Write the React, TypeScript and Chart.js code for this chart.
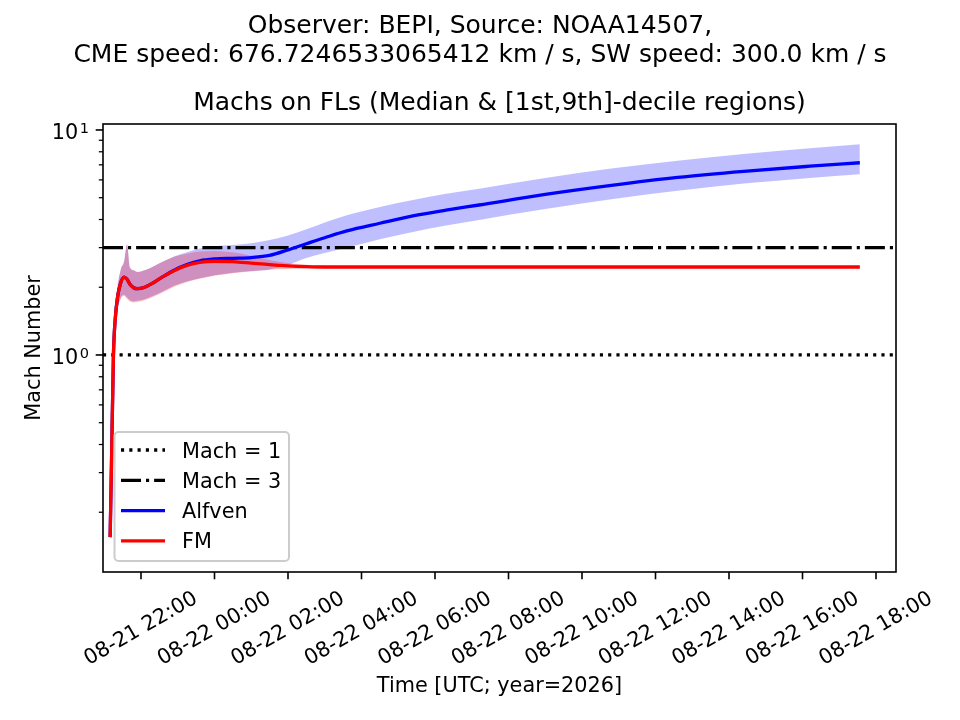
import React, { useEffect, useRef } from 'react';
import { Chart, registerables } from 'chart.js';

Chart.register(...registerables);

// hours counted from 2026-08-21 00:00 UTC
const TIME_H = [
  21.16, 21.2, 21.25, 21.3, 21.36, 21.45, 21.54, 21.62, 21.7, 21.8, 21.9, 22.1,
  22.35, 22.6, 22.9, 23.25, 23.6, 24.0, 24.5, 25.0, 25.5, 26.0, 26.5, 27.0, 27.6,
  28.5, 29.4, 30.3, 31.2, 33.0, 34.8, 36.6, 38.4, 40.2, 41.56,
];

const ALFVEN_MED = [
  0.155, 0.35, 1.0, 1.45, 1.8, 2.1, 2.22, 2.17, 2.06, 1.99, 1.97, 2.0,
  2.1, 2.23, 2.38, 2.52, 2.62, 2.67, 2.69, 2.71, 2.77, 2.93, 3.12, 3.32, 3.56,
  3.85, 4.15, 4.4, 4.64, 5.17, 5.67, 6.15, 6.55, 6.9, 7.15,
];
const ALFVEN_LO = [
  0.15, 0.33, 0.93, 1.33, 1.6, 1.8, 1.85, 1.8, 1.75, 1.73, 1.74, 1.77,
  1.84, 1.92, 2.03, 2.12, 2.19, 2.26, 2.32, 2.36, 2.4, 2.52, 2.7, 2.84, 3.0,
  3.27, 3.52, 3.76, 3.98, 4.45, 4.92, 5.37, 5.78, 6.12, 6.36,
];
const ALFVEN_HI = [
  0.165, 0.39, 1.1, 1.6, 2.0, 2.4, 2.6, 3.1, 2.45, 2.38, 2.34, 2.38,
  2.48, 2.6, 2.74, 2.86, 2.97, 3.04, 3.08, 3.14, 3.24, 3.4, 3.62, 3.88, 4.18,
  4.55, 4.88, 5.2, 5.48, 6.12, 6.75, 7.3, 7.82, 8.3, 8.64,
];

const FM_MED = [
  0.155, 0.35, 1.0, 1.45, 1.8, 2.1, 2.22, 2.17, 2.06, 1.99, 1.97, 2.0,
  2.1, 2.23, 2.37, 2.5, 2.58, 2.61, 2.6, 2.56, 2.52, 2.49, 2.47, 2.46, 2.46,
  2.46, 2.46, 2.46, 2.46, 2.46, 2.46, 2.46, 2.46, 2.46, 2.46,
];
const FM_LO = [
  0.148, 0.32, 0.92, 1.31, 1.58, 1.78, 1.83, 1.78, 1.73, 1.71, 1.72, 1.75,
  1.82, 1.9, 2.01, 2.11, 2.18, 2.25, 2.31, 2.35, 2.39, 2.41, 2.42, 2.43, 2.43,
  2.43, 2.43, 2.43, 2.43, 2.43, 2.43, 2.43, 2.43, 2.43, 2.43,
];
const FM_HI = [
  0.165, 0.39, 1.1, 1.6, 2.0, 2.4, 2.6, 3.1, 2.45, 2.38, 2.34, 2.38,
  2.48, 2.6, 2.73, 2.82, 2.88, 2.9, 2.86, 2.76, 2.64, 2.56, 2.52, 2.5, 2.49,
  2.49, 2.49, 2.49, 2.49, 2.49, 2.49, 2.49, 2.49, 2.49, 2.49,
];

const MACH_LEVELS = [1, 3];
const X_TICKS = [22, 24, 26, 28, 30, 32, 34, 36, 38, 40, 42];
const Y_MAJOR = [1, 10];
const Y_MAJOR_EXP = ['0', '1'];
const Y_MINOR = [0.2, 0.3, 0.4, 0.5, 0.6, 0.7, 0.8, 0.9, 2, 3, 4, 5, 6, 7, 8, 9];
const X_MIN = 20.966;
const X_MAX = 42.544;
const Y_MIN = 0.1085;
const Y_MAX = 10.63;

const SUPTITLE = [
  'Observer: BEPI, Source: NOAA14507,',
  'CME speed: 676.7246533065412 km / s, SW speed: 300.0 km / s',
];
const TITLE = 'Machs on FLs (Median & [1st,9th]-decile regions)';
const X_LABEL = 'Time [UTC; year=2026]';
const Y_LABEL = 'Mach Number';
const LEGEND_LABELS = ['Mach = 1', 'Mach = 3', 'Alfven', 'FM'];

const FONT = '"DejaVu Sans", sans-serif';
const FS = 20.8;
const FS_TITLE = 25;
const LW = 3.125;
const LINE_W = 3.3;
const DOTTED = [LW, 1.65 * LW];
const DASHDOT = [6.4 * LW, 1.6 * LW, LW, 1.6 * LW];

const tickLabel = (h: number) => {
  const day = 21 + Math.floor(h / 24);
  const hh = h % 24;
  return `08-${day} ${String(hh).padStart(2, '0')}:00`;
};

const pts = (ys: number[]) => TIME_H.map((t, i) => ({ x: t, y: ys[i] }));

const decor = {
  id: 'mplDecor',
  afterDraw(chart: any) {
    const { ctx, chartArea: a } = chart;
    const xs = chart.scales.x;
    const ys = chart.scales.y;
    ctx.save();
    ctx.fillStyle = '#000';
    ctx.strokeStyle = '#000';
    ctx.setLineDash([]);

    // legend
    const lx = 114.5, ly = 432, lw = 174.5, lh = 129;
    ctx.beginPath();
    ctx.roundRect(lx, ly, lw, lh, 4);
    ctx.fillStyle = 'rgba(255,255,255,0.8)';
    ctx.fill();
    ctx.strokeStyle = '#cccccc';
    ctx.lineWidth = 2;
    ctx.stroke();
    const handles = [
      { color: '#000', dash: DOTTED },
      { color: '#000', dash: DASHDOT },
      { color: '#0000ff', dash: [] },
      { color: '#ff0000', dash: [] },
    ];
    ctx.font = `${FS}px ${FONT}`;
    LEGEND_LABELS.forEach((lab, i) => {
      const ry = 450 + i * 30.3;
      ctx.strokeStyle = handles[i].color;
      ctx.lineWidth = LINE_W;
      ctx.setLineDash(handles[i].dash);
      ctx.beginPath();
      ctx.moveTo(121, ry);
      ctx.lineTo(165, ry);
      ctx.stroke();
      ctx.setLineDash([]);
      ctx.fillStyle = '#000';
      ctx.textAlign = 'left';
      ctx.textBaseline = 'alphabetic';
      ctx.fillText(lab, 182, ry + 0.365 * FS);
    });

    // spines
    ctx.strokeStyle = '#000';
    ctx.fillStyle = '#000';
    ctx.lineWidth = 1.6;
    ctx.strokeRect(a.left, a.top, a.right - a.left, a.bottom - a.top);

    // x ticks + rotated labels
    const ang = Math.PI / 6;
    X_TICKS.forEach((h) => {
      const px = xs.getPixelForValue(h);
      ctx.beginPath();
      ctx.moveTo(px, a.bottom);
      ctx.lineTo(px, a.bottom + 7.3);
      ctx.stroke();
      const lab = tickLabel(h);
      const w = ctx.measureText(lab).width;
      const bh = w * Math.sin(ang) + FS * 1.17 * Math.cos(ang);
      ctx.save();
      ctx.translate(px, a.bottom + 14.6 + bh / 2);
      ctx.rotate(-ang);
      ctx.textAlign = 'center';
      ctx.textBaseline = 'middle';
      ctx.fillText(lab, 0, 0);
      ctx.restore();
    });

    // y ticks
    Y_MAJOR.forEach((v, i) => {
      const py = ys.getPixelForValue(v);
      ctx.lineWidth = 1.6;
      ctx.beginPath();
      ctx.moveTo(a.left, py);
      ctx.lineTo(a.left - 7.3, py);
      ctx.stroke();
      ctx.font = `${FS * 0.7}px ${FONT}`;
      const sw = ctx.measureText(Y_MAJOR_EXP[i]).width;
      ctx.textAlign = 'right';
      ctx.textBaseline = 'alphabetic';
      ctx.fillText(Y_MAJOR_EXP[i], 89, py + 3);
      ctx.font = `${FS}px ${FONT}`;
      ctx.fillText('10', 89 - sw - 1.5, py + 9.5);
    });
    ctx.lineWidth = 1.25;
    Y_MINOR.forEach((v) => {
      const py = ys.getPixelForValue(v);
      ctx.beginPath();
      ctx.moveTo(a.left, py);
      ctx.lineTo(a.left - 4.2, py);
      ctx.stroke();
    });

    // axis labels
    ctx.font = `${FS}px ${FONT}`;
    ctx.textAlign = 'center';
    ctx.textBaseline = 'alphabetic';
    ctx.fillText(X_LABEL, (a.left + a.right) / 2, 692);
    ctx.save();
    ctx.translate(40, (a.top + a.bottom) / 2);
    ctx.rotate(-Math.PI / 2);
    ctx.fillText(Y_LABEL, 0, 0);
    ctx.restore();

    // titles
    ctx.font = `${FS_TITLE}px ${FONT}`;
    ctx.fillText(SUPTITLE[0], chart.width / 2, 33);
    ctx.fillText(SUPTITLE[1], chart.width / 2, 62);
    ctx.fillText(TITLE, (a.left + a.right) / 2, 110);
    ctx.restore();
  },
};

const App = () => {
  const canvasRef = useRef<HTMLCanvasElement | null>(null);

  useEffect(() => {
    if (!canvasRef.current) return;
    const band = { borderWidth: 0, pointRadius: 0, cubicInterpolationMode: 'monotone' as const };
    const median = { borderWidth: LINE_W, pointRadius: 0, fill: false, cubicInterpolationMode: 'monotone' as const };
    const chart = new Chart(canvasRef.current, {
      type: 'line',
      data: {
        datasets: [
          { label: 'alfven lo', data: pts(ALFVEN_LO), fill: false, order: 60, ...band },
          { label: 'alfven hi', data: pts(ALFVEN_HI), fill: 0, backgroundColor: 'rgba(0,0,255,0.25)', order: 55, ...band },
          { label: 'fm lo', data: pts(FM_LO), fill: false, order: 50, ...band },
          { label: 'fm hi', data: pts(FM_HI), fill: 2, backgroundColor: 'rgba(255,0,0,0.25)', order: 45, ...band },
          {
            label: LEGEND_LABELS[0],
            data: [{ x: X_MIN, y: MACH_LEVELS[0] }, { x: X_MAX, y: MACH_LEVELS[0] }],
            borderColor: '#000', borderWidth: LINE_W, borderDash: DOTTED, pointRadius: 0, fill: false, order: 30,
          },
          {
            label: LEGEND_LABELS[1],
            data: [{ x: X_MIN, y: MACH_LEVELS[1] }, { x: X_MAX, y: MACH_LEVELS[1] }],
            borderColor: '#000', borderWidth: LINE_W, borderDash: DASHDOT, pointRadius: 0, fill: false, order: 25,
          },
          { label: LEGEND_LABELS[2], data: pts(ALFVEN_MED), borderColor: '#0000ff', order: 20, ...median },
          { label: LEGEND_LABELS[3], data: pts(FM_MED), borderColor: '#ff0000', order: 10, ...median },
        ],
      },
      options: {
        responsive: false,
        animation: false,
        parsing: false,
        layout: { padding: { left: 103, right: 64, top: 124, bottom: 148 } },
        scales: {
          x: { type: 'linear', min: X_MIN, max: X_MAX, display: false },
          y: { type: 'logarithmic', min: Y_MIN, max: Y_MAX, display: false },
        },
        plugins: {
          legend: { display: false },
          tooltip: { enabled: false },
          title: { display: false },
        },
      },
      plugins: [decor],
    });
    return () => chart.destroy();
  }, []);

  return (
    <div style={{ position: 'absolute', left: 0, top: 0, width: 960, height: 720, background: '#fff' }}>
      <canvas ref={canvasRef} width={960} height={720} style={{ display: 'block' }} />
    </div>
  );
};

export default App;
